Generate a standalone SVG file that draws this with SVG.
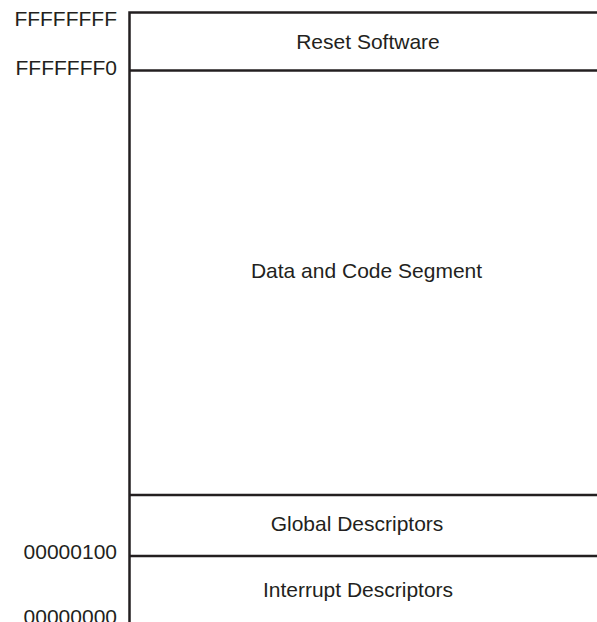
<svg xmlns="http://www.w3.org/2000/svg" width="597" height="622" viewBox="0 0 597 622">
<style>
.ln{stroke:#231f20;stroke-width:2.5;fill:none}
text{font-family:"Liberation Sans",Arial,sans-serif;font-size:21px;fill:#231f20}
.a{text-anchor:end}
.c{text-anchor:middle}
</style>
<rect width="597" height="622" fill="#fff"/>
<g id="connectors">
<path class="ln" d="M129.5 622 V12.5 H597"/>
<line class="ln" x1="129.5" y1="70.5" x2="597" y2="70.5"/>
<line class="ln" x1="129.5" y1="495" x2="597" y2="495"/>
<line class="ln" x1="129.5" y1="556" x2="597" y2="556"/>
</g>
<g id="addr-ffffffff"><text class="a" x="117" y="26">FFFFFFFF</text></g>
<g id="addr-fffffff0"><text class="a" x="117" y="75">FFFFFFF0</text></g>
<g id="addr-00000100"><text class="a" x="117" y="559">00000100</text></g>
<g id="addr-00000000"><text class="a" x="117" y="623.5">00000000</text></g>
<g id="reset"><text class="c" x="368" y="49">Reset Software</text></g>
<g id="data"><text class="c" x="366.5" y="278">Data and Code Segment</text></g>
<g id="global"><text class="c" x="357" y="531">Global Descriptors</text></g>
<g id="interrupt"><text class="c" x="358" y="597">Interrupt Descriptors</text></g>
</svg>
